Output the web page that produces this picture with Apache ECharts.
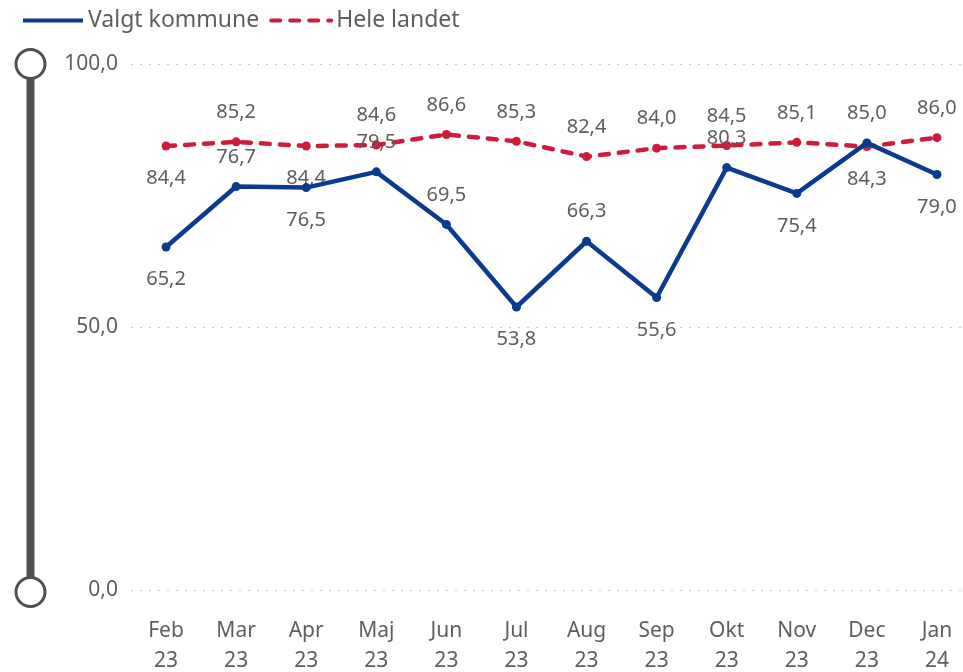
<!DOCTYPE html>
<html>
<head>
<meta charset="utf-8">
<script src="https://cdn.jsdelivr.net/npm/echarts@6/dist/echarts.min.js"></script>
<style>
  html, body { margin: 0; padding: 0; background: #ffffff; }
  #chart { width: 963px; height: 672px; }
</style>
</head>
<body>
<div id="chart"></div>
<script>
  // months + values
  var months = ['Feb\n23', 'Mar\n23', 'Apr\n23', 'Maj\n23', 'Jun\n23', 'Jul\n23', 'Aug\n23', 'Sep\n23', 'Okt\n23', 'Nov\n23', 'Dec\n23', 'Jan\n24'];
  var valgtKommune = [65.2, 76.7, 76.5, 79.5, 69.5, 53.8, 66.3, 55.6, 80.3, 75.4, 85.0, 79.0];
  var heleLandet = [84.4, 85.2, 84.4, 84.6, 86.6, 85.3, 82.4, 84.0, 84.5, 85.1, 84.3, 86.0];
  var yTicks = [0, 50, 100];

  // where each data label sits (like power bi did it)
  var kommunePos = ['bottom', 'top', 'bottom', 'top', 'top', 'bottom', 'top', 'bottom', 'top', 'bottom', 'top', 'bottom'];
  var landetPos = ['bottom', 'top', 'bottom', 'top', 'top', 'top', 'top', 'top', 'top', 'top', 'bottom', 'top'];

  var txtColor = '#605e5c';
  var font = '"Noto Sans", "Open Sans", sans-serif';

  function fmt(v) {
    return v.toFixed(1).replace('.', ',');
  }

  function withLabels(values, pos) {
    return values.map(function (v, i) {
      return { value: v, label: { position: pos[i], distance: pos[i] === 'top' ? 15 : 18 } };
    });
  }

  var chart = echarts.init(document.getElementById('chart'));
  var option = {
    animation: false,
    textStyle: { fontFamily: font },
    legend: {
      left: 16,
      top: 4,
      itemWidth: 60,
      itemHeight: 14,
      itemGap: 10,
      textStyle: { color: txtColor, fontSize: 23, fontFamily: font },
      itemStyle: { opacity: 0 },
      lineStyle: { width: 4 },
      data: ['Valgt kommune', 'Hele landet']
    },
    grid: { left: 131, right: -9, top: 64, bottom: 82, outerBoundsMode: 'none', containLabel: false },
    xAxis: {
      type: 'category',
      data: months,
      boundaryGap: true,
      axisLine: { show: false },
      axisTick: { show: false },
      axisLabel: { color: txtColor, fontSize: 21, lineHeight: 30, margin: 26, interval: 0 }
    },
    yAxis: {
      type: 'value',
      min: yTicks[0],
      max: yTicks[yTicks.length - 1],
      interval: 50,
      axisLine: { show: false },
      axisTick: { show: false },
      axisLabel: {
        color: txtColor, fontSize: 21, margin: 13,
        formatter: function (v) { return fmt(v); }
      },
      splitLine: { lineStyle: { color: '#c8c8c8', type: [2, 7], width: 1 } }
    },
    dataZoom: [{
      type: 'slider',
      yAxisIndex: 0,
      orient: 'vertical',
      filterMode: 'none',
      start: 0,
      end: 100,
      left: 25,
      width: 8,
      top: 63,
      bottom: 79,
      showDetail: false,
      showDataShadow: false,
      brushSelect: false,
      moveHandleSize: 0,
      backgroundColor: 'transparent',
      borderColor: 'transparent',
      fillerColor: '#4f4f4f',
      handleIcon: 'circle',
      handleSize: 29,
      handleStyle: { color: '#ffffff', borderColor: '#505050', borderWidth: 3 },
      emphasis: { handleStyle: { color: '#ffffff', borderColor: '#505050', borderWidth: 3 } }
    }],
    series: [
      {
        name: 'Valgt kommune',
        type: 'line',
        data: withLabels(valgtKommune, kommunePos),
        symbol: 'circle',
        symbolSize: 9,
        color: '#0b3a8e',
        lineStyle: { width: 4.5, color: '#0b3a8e' },
        z: 3,
        label: {
          show: true, color: txtColor, fontSize: 20,
          formatter: function (p) { return fmt(p.value); }
        }
      },
      {
        name: 'Hele landet',
        type: 'line',
        data: withLabels(heleLandet, landetPos),
        symbol: 'circle',
        symbolSize: 9,
        color: '#cf1c3b',
        lineStyle: { width: 4.5, color: '#cf1c3b', type: [9, 10], cap: 'round' },
        z: 2,
        label: {
          show: true, color: txtColor, fontSize: 20,
          formatter: function (p) { return fmt(p.value); }
        }
      }
    ]
  };
  chart.setOption(option);
</script>
</body>
</html>
